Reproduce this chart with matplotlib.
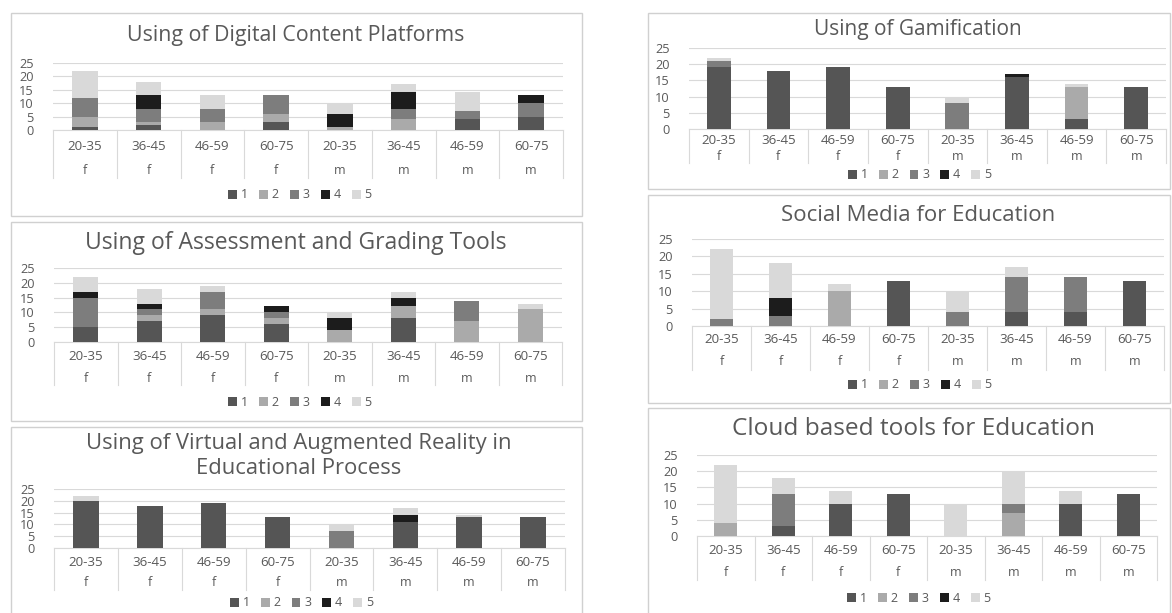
import matplotlib
matplotlib.use("Agg")
import matplotlib.pyplot as plt
from matplotlib.patches import Rectangle, Patch
from matplotlib.lines import Line2D

plt.rcParams['font.family'] = ['Open Sans', 'DejaVu Sans']

ages = ["20-35", "36-45", "46-59", "60-75", "20-35", "36-45", "46-59", "60-75"]
sexes = ["f", "f", "f", "f", "m", "m", "m", "m"]
series_names = ["1", "2", "3", "4", "5"]
series_colors = ["#555555", "#aaaaaa", "#7d7d7d", "#1c1c1c", "#d9d9d9"]
y_ticks = [0, 5, 10, 15, 20, 25]

# each panel: rows = series 1..5, columns = the 8 age/sex groups
digital_content = [
    [1, 2, 0, 3, 0, 0, 4, 5],
    [4, 1, 3, 3, 1, 4, 0, 0],
    [7, 5, 5, 7, 0, 4, 3, 5],
    [0, 5, 0, 0, 5, 6, 0, 3],
    [10, 5, 5, 0, 4, 3, 7, 0],
]
assessment = [
    [5, 7, 9, 6, 0, 8, 0, 0],
    [0, 2, 2, 2, 4, 4, 7, 11],
    [10, 2, 6, 2, 0, 0, 7, 0],
    [2, 2, 0, 2, 4, 3, 0, 0],
    [5, 5, 2, 0, 2, 2, 0, 2],
]
virtual_reality = [
    [20, 18, 19, 13, 0, 11, 13, 13],
    [0, 0, 0, 0, 0, 0, 0, 0],
    [0, 0, 0, 0, 7, 0, 0, 0],
    [0, 0, 0, 0, 0, 3, 0, 0],
    [2, 0, 0, 0, 3, 3, 1, 0],
]
gamification = [
    [19, 18, 19, 13, 0, 16, 3, 13],
    [0, 0, 0, 0, 0, 0, 10, 0],
    [2, 0, 0, 0, 8, 0, 0, 0],
    [0, 0, 0, 0, 0, 1, 0, 0],
    [1, 0, 0, 0, 2, 0, 1, 0],
]
social_media = [
    [0, 0, 0, 13, 0, 4, 4, 13],
    [0, 0, 10, 0, 0, 0, 0, 0],
    [2, 3, 0, 0, 4, 10, 10, 0],
    [0, 5, 0, 0, 0, 0, 0, 0],
    [20, 10, 2, 0, 6, 3, 0, 0],
]
cloud_tools = [
    [0, 3, 10, 13, 0, 0, 10, 13],
    [4, 0, 0, 0, 0, 7, 0, 0],
    [0, 10, 0, 0, 0, 3, 0, 0],
    [0, 0, 0, 0, 0, 0, 0, 0],
    [18, 5, 4, 0, 10, 10, 4, 0],
]

W, H = 1172, 613
fig = plt.figure(figsize=(W / 100, H / 100), dpi=100)
fig.patch.set_facecolor("white")

TXT = "#595959"
GRID = "#d9d9d9"

# (title, data, x_left, x_right, y0_px, y25_px, age_y, sex_y, sep_bottom, legend_y,
#  title_x_shift, title_y, title_size, box)
panels = [
    ("Using of Digital Content Platforms", digital_content,
     53, 563, 130, 63, 146, 170, 178, 195, -12, 35, 15.4, (11, 13, 582, 216)),
    ("Using of Assessment and Grading Tools", assessment,
     54, 562, 342, 268, 357, 378, 385, 402, -12, 243, 16.5, (11, 222, 582, 421)),
    ("Using of Virtual and Augmented Reality in\nEducational Process", virtual_reality,
     54, 565, 548, 489, 562, 582, 590, 603, -11, 456, 15.8, (11, 427, 582, 640)),
    ("Using of Gamification", gamification,
     689, 1166, 129, 48, 140, 157, 163, 175, -10, 29, 15.0, (648, 13, 1170, 189)),
    ("Social Media for Education", social_media,
     692, 1164, 326, 239, 340, 362, 370, 385, -10, 216, 16.0, (648, 195, 1170, 403)),
    ("Cloud based tools for Education", cloud_tools,
     697, 1157, 536, 455, 551, 573, 580, 598, -13, 429, 17.6, (648, 408, 1170, 640)),
]


def fx(px):
    return px / W


def fy(py):
    return 1 - py / H


for (title, data, xl, xr, y0, y25, age_y, sex_y, sep_b, leg_y, tdx, title_y, tsize, box) in panels:
    bx0, by0, bx1, by1 = box
    fig.patches.append(Rectangle((fx(bx0), fy(by1)), fx(bx1 - bx0), (by1 - by0) / H,
                                 transform=fig.transFigure, facecolor="white",
                                 edgecolor="#d0d0d0", linewidth=1.0, zorder=-10))
    ax = fig.add_axes([fx(xl), fy(y0), fx(xr - xl), (y0 - y25) / H])
    ax.set_zorder(2)
    ax.set_facecolor("none")
    n = len(ages)
    xs = list(range(n))
    bottoms = [0] * n
    for vals, col, name in zip(data, series_colors, series_names):
        ax.bar(xs, vals, width=0.4, bottom=bottoms, color=col, label=name, zorder=3)
        bottoms = [b + v for b, v in zip(bottoms, vals)]
    ax.set_xlim(-0.5, n - 0.5)
    ax.set_ylim(0, 25)
    ax.set_yticks(y_ticks)
    ax.set_yticklabels([str(t) for t in y_ticks])
    ax.tick_params(axis="y", length=0, labelsize=9.2, colors=TXT, pad=14)
    ax.set_xticks([])
    ax.grid(axis="y", color=GRID, linewidth=0.8, zorder=0)
    for s in ["top", "right", "left"]:
        ax.spines[s].set_visible(False)
    ax.spines["bottom"].set_color(GRID)
    ax.spines["bottom"].set_linewidth(0.8)

    hpx = y0 - y25
    tr = ax.get_xaxis_transform()
    for i in range(n):
        ax.text(i, -(age_y - y0) / hpx, ages[i], transform=tr, ha="center", va="center",
                fontsize=9.6, color=TXT)
        ax.text(i, -(sex_y - y0) / hpx, sexes[i], transform=tr, ha="center", va="center",
                fontsize=9.0, color=TXT)
    for k in range(n + 1):
        ax.add_line(Line2D([k - 0.5, k - 0.5], [0, -(sep_b - y0) / hpx], transform=tr,
                           color=GRID, linewidth=0.8, clip_on=False))

    handles = [Patch(facecolor=c, edgecolor="none", label=nm)
               for c, nm in zip(series_colors, series_names)]
    fig.legend(handles=handles, loc="center", ncol=5,
               bbox_to_anchor=(fx((xl + xr) / 2 - 8), fy(leg_y)),
               frameon=False, fontsize=9, labelcolor=TXT,
               handlelength=0.7, handleheight=0.7, handletextpad=0.3,
               columnspacing=0.9, borderaxespad=0, borderpad=0)

    fig.text(fx((xl + xr) / 2 + tdx), fy(title_y), title,
             ha="center", va="center", fontsize=tsize, color=TXT, linespacing=1.2)

fig.savefig("out.png", dpi=100, facecolor="white")
